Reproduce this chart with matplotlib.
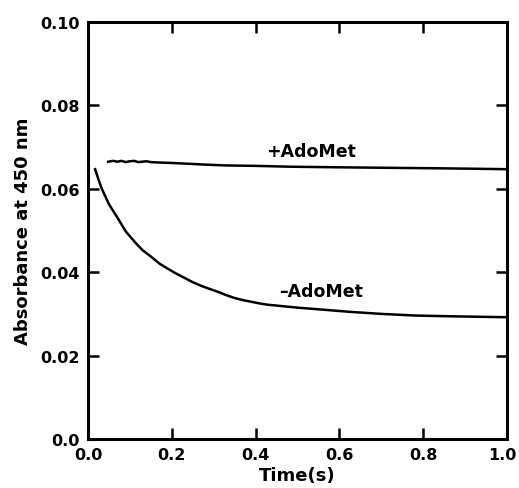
import matplotlib
matplotlib.use("Agg")
import matplotlib.pyplot as plt
import matplotlib.transforms as mtransforms

# +AdoMet trace
t_plus = [0.048, 0.06, 0.07, 0.08, 0.09, 0.10, 0.11, 0.12, 0.13, 0.14, 0.15, 0.17,
          0.20, 0.24, 0.28, 0.33, 0.40, 0.48, 0.56, 0.65, 0.75, 0.85, 0.93, 1.0]
a_plus = [0.0665, 0.0667, 0.0665, 0.0667, 0.0664, 0.0666, 0.0667, 0.0664, 0.0665,
          0.0666, 0.0664, 0.0663, 0.0662, 0.0660, 0.0658, 0.0656, 0.0655, 0.0653,
          0.0652, 0.0651, 0.0650, 0.0649, 0.0648, 0.0647]

# -AdoMet trace
t_minus = [0.017, 0.025, 0.033, 0.05, 0.072, 0.09, 0.112, 0.13, 0.152, 0.17, 0.191,
           0.21, 0.231, 0.25, 0.271, 0.29, 0.310, 0.33, 0.35, 0.37, 0.39, 0.41, 0.429,
           0.45, 0.469, 0.50, 0.55, 0.624, 0.70, 0.783, 0.88, 1.0]
a_minus = [0.0647, 0.0622, 0.0600, 0.0563, 0.0528, 0.0498, 0.0472, 0.0453, 0.0436,
           0.0421, 0.0408, 0.0397, 0.0386, 0.0376, 0.0367, 0.0360, 0.0353, 0.0345,
           0.0338, 0.0333, 0.0329, 0.0325, 0.0322, 0.0320, 0.0318, 0.0315, 0.0311,
           0.0305, 0.0300, 0.0296, 0.0294, 0.0292]

xticks = [0.0, 0.2, 0.4, 0.6, 0.8, 1.0]
xticklabels = ["0.0", "0.2", "0.4", "0.6", "0.8", "1.0"]
yticks = [0.0, 0.02, 0.04, 0.06, 0.08, 0.10]
yticklabels = ["0.0", "0.02", "0.04", "0.06", "0.08", "0.10"]

plt.rcParams['font.family'] = ['DejaVu Sans']
plt.rcParams['font.weight'] = 'bold'

fig = plt.figure(figsize=(5.19, 4.89), dpi=100)
ax = fig.add_axes([88 / 519, 1 - 440 / 489, (507 - 88) / 519, (440 - 23) / 489])

ax.plot(t_plus, a_plus, color="black", lw=1.8)
ax.plot(t_minus, a_minus, color="black", lw=1.8)

ax.text(0.426, 0.0690, "+AdoMet", fontsize=12.5, fontweight="bold", va="center", ha="left")
ax.text(0.457, 0.0355, "\u2013AdoMet", fontsize=12.5, fontweight="bold", va="center", ha="left")

ax.set_xlim(0, 1.0)
ax.set_ylim(0, 0.10)
ax.set_xticks(xticks)
ax.set_xticklabels(xticklabels)
ax.set_yticks(yticks)
ax.set_yticklabels(yticklabels)
ax.tick_params(direction="in", length=8, width=1.8, top=True, right=True,
               labelsize=11.5, pad=6)
for lab in ax.get_xticklabels() + ax.get_yticklabels():
    lab.set_fontweight("bold")
# keep the last x label inside the figure
last = ax.get_xticklabels()[-1]
last.set_transform(last.get_transform() +
                   mtransforms.ScaledTranslation(-5 / 100, 0, fig.dpi_scale_trans))
for sp in ax.spines.values():
    sp.set_linewidth(2.2)

ax.set_xlabel("Time(s)", fontsize=13, fontweight="bold", labelpad=3)
ax.set_ylabel("Absorbance at 450 nm", fontsize=13, fontweight="bold", labelpad=6)

fig.savefig("out.png", dpi=100)
